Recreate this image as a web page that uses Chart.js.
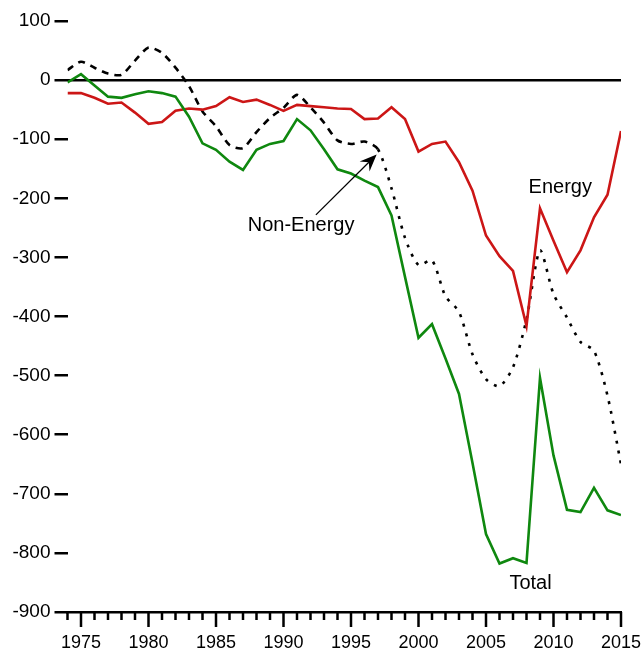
<!DOCTYPE html>
<html>
<head>
<meta charset="utf-8">
<title>Energy / Non-Energy / Total</title>
<script src="https://cdn.jsdelivr.net/npm/chart.js@4.4.1/dist/chart.umd.min.js"></script>
<style>
  body { margin: 0; background: #fff; }
  #wrap { width: 642px; height: 651px; }
</style>
</head>
<body>
<div id="wrap"><canvas id="balanceChart" width="642" height="651"></canvas></div>
<script>
const years = [1974, 1975, 1976, 1977, 1978, 1979, 1980, 1981, 1982, 1983,
  1984, 1985, 1986, 1987, 1988, 1989, 1990, 1991, 1992, 1993,
  1994, 1995, 1996, 1997, 1998, 1999, 2000, 2001, 2002, 2003,
  2004, 2005, 2006, 2007, 2008, 2009, 2010, 2011, 2012, 2013,
  2014, 2015];
const energy = [-22, -22, -30, -40, -38, -55, -74, -71, -52, -48,
  -50, -44, -29, -37, -33, -42, -52, -42, -44, -46,
  -48, -49, -66, -65, -46, -66, -121, -108, -104, -139,
  -187, -263, -298, -323, -416, -217, -272, -325, -288, -232,
  -194, -86];
const nonEnergy = [17, 31, 21, 11, 9, 33, 55, 46, 21, -10,
  -53, -78, -110, -115, -88, -64, -47, -25, -46, -72,
  -102, -108, -104, -117, -183, -267, -313, -305, -366, -392,
  -464, -506, -518, -486, -405, -288, -362, -402, -443, -458,
  -534, -650];
const total = [-4, 10, -9, -28, -30, -24, -19, -22, -28, -62,
  -107, -118, -138, -152, -118, -108, -103, -66, -85, -117,
  -151, -158, -170, -181, -229, -333, -436, -413, -471, -531,
  -648, -768, -818, -809, -817, -504, -635, -727, -731, -690,
  -728, -736];
const yTickValues = [100, 0, -100, -200, -300, -400, -500, -600, -700, -800, -900];
const xLabelYears = [1975, 1980, 1985, 1990, 1995, 2000, 2005, 2010, 2015];

const fontName = '"Liberation Sans", Arial, sans-serif';

function toPoints(values) {
  return years.map(function(yr, i) { return { x: yr, y: values[i] }; });
}

// tick marks under the year axis: long every 5 years, short in between
const yearTicksPlugin = {
  id: 'yearTicks',
  afterDraw(chart) {
    const ctx = chart.ctx;
    const xs = chart.scales.x;
    const bottom = chart.chartArea.bottom;
    ctx.save();
    ctx.strokeStyle = '#000';
    ctx.lineWidth = 2.5;
    years.forEach(function(yr) {
      const px = xs.getPixelForValue(yr);
      const len = yr % 5 === 0 ? 15 : 8;
      ctx.beginPath();
      ctx.moveTo(px, bottom);
      ctx.lineTo(px, bottom + len);
      ctx.stroke();
    });
    ctx.restore();
  }
};

// series names and the arrow pointing at the non-energy line
const seriesLabelsPlugin = {
  id: 'seriesLabels',
  afterDatasetsDraw(chart) {
    const ctx = chart.ctx;
    const xs = chart.scales.x;
    const ys = chart.scales.y;
    ctx.save();
    ctx.fillStyle = '#000';
    ctx.font = '20px ' + fontName;
    ctx.textAlign = 'center';
    ctx.textBaseline = 'middle';
    ctx.fillText('Energy', xs.getPixelForValue(2010.5), ys.getPixelForValue(-182));
    ctx.fillText('Non-Energy', xs.getPixelForValue(1991.3), ys.getPixelForValue(-246));
    ctx.fillText('Total', xs.getPixelForValue(2008.3), ys.getPixelForValue(-851));

    const x0 = xs.getPixelForValue(1992.4), y0 = ys.getPixelForValue(-228);
    const x1 = xs.getPixelForValue(1996.9), y1 = ys.getPixelForValue(-126);
    const ang = Math.atan2(y1 - y0, x1 - x0);
    const headLen = 17, headW = 7, notch = 11;
    const bx = x1 - Math.cos(ang) * notch, by = y1 - Math.sin(ang) * notch;
    ctx.strokeStyle = '#000';
    ctx.lineWidth = 1.3;
    ctx.beginPath();
    ctx.moveTo(x0, y0);
    ctx.lineTo(bx, by);
    ctx.stroke();
    ctx.beginPath();
    ctx.moveTo(x1, y1);
    ctx.lineTo(x1 - Math.cos(ang) * headLen - Math.sin(ang) * headW,
               y1 - Math.sin(ang) * headLen + Math.cos(ang) * headW);
    ctx.lineTo(bx, by);
    ctx.lineTo(x1 - Math.cos(ang) * headLen + Math.sin(ang) * headW,
               y1 - Math.sin(ang) * headLen - Math.cos(ang) * headW);
    ctx.closePath();
    ctx.fill();
    ctx.restore();
  }
};

document.addEventListener('DOMContentLoaded', function() {
  const chartElement = document.getElementById('balanceChart');
  new Chart(chartElement, {
    type: 'line',
    data: {
      datasets: [{
        label: 'Total',
        data: toPoints(total),
        borderColor: '#0f880f',
        borderWidth: 2.6,
        pointRadius: 0,
        tension: 0
      }, {
        label: 'Energy',
        data: toPoints(energy),
        borderColor: '#cc1616',
        borderWidth: 2.6,
        pointRadius: 0,
        tension: 0
      }, {
        label: 'Non-Energy',
        data: toPoints(nonEnergy),
        borderColor: '#000',
        borderWidth: 2.6,
        pointRadius: 0,
        tension: 0.25,
        segment: {
          // dashed up to 1997, dotted afterwards
          borderDash: function(ctx) {
            return ctx.p0.parsed.x < 1997 ? [7, 6] : [3, 7];
          }
        }
      }]
    },
    options: {
      responsive: false,
      devicePixelRatio: 1,
      animation: false,
      layout: { padding: { top: 21, right: 21, left: 0, bottom: 0 } },
      plugins: {
        legend: { display: false },
        tooltip: { enabled: false }
      },
      scales: {
        x: {
          type: 'linear',
          min: 1974,
          max: 2015,
          afterBuildTicks: function(scale) {
            scale.ticks = xLabelYears.map(function(v) { return { value: v }; });
          },
          afterFit: function(scale) {
            scale.height = 39;
            scale.paddingLeft = 0;
            scale.paddingRight = 0;
          },
          grid: { drawOnChartArea: false, drawTicks: false },
          border: { display: true, color: '#000', width: 2.5 },
          ticks: {
            color: '#000',
            font: { family: fontName, size: 18 },
            padding: 20,
            maxRotation: 0,
            autoSkip: false,
            callback: function(v) { return String(v); }
          }
        },
        y: {
          min: -900,
          max: 100,
          afterBuildTicks: function(scale) {
            scale.ticks = yTickValues.map(function(v) { return { value: v }; });
          },
          afterFit: function(scale) { scale.width = 67.5; },
          grid: {
            drawOnChartArea: true,
            color: function(ctx) {
              return ctx.tick && ctx.tick.value === 0 ? '#000' : 'rgba(0,0,0,0)';
            },
            tickColor: '#000',
            tickLength: 13,
            lineWidth: 2.5
          },
          border: { display: false },
          ticks: {
            color: '#000',
            font: { family: fontName, size: 19 },
            padding: 4,
            callback: function(v) { return String(v); }
          }
        }
      }
    },
    plugins: [yearTicksPlugin, seriesLabelsPlugin]
  });
});
</script>
</body>
</html>
